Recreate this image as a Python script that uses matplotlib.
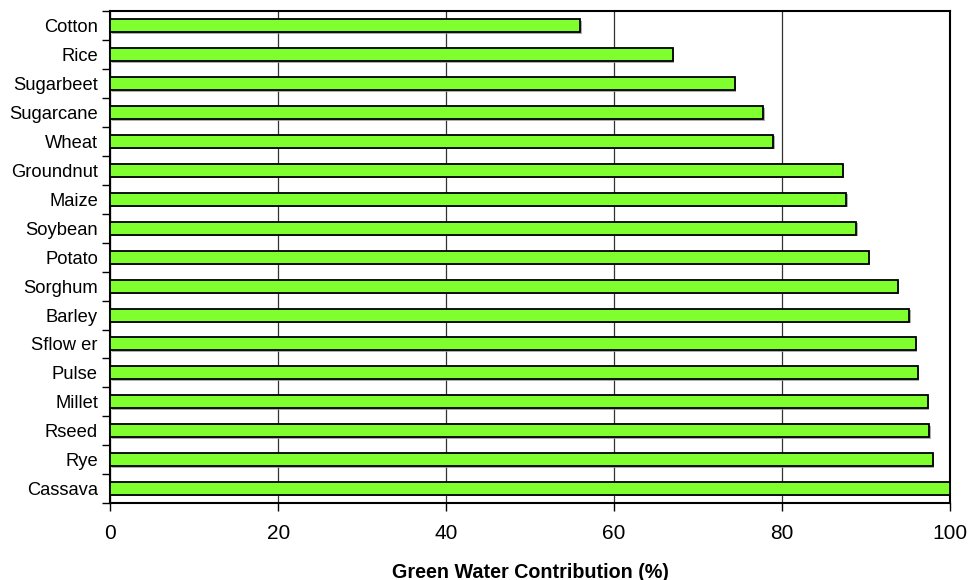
import matplotlib
matplotlib.use('Agg')

import numpy as np
import matplotlib.pyplot as plt
import matplotlib.patheffects as pe

plt.rcParams['font.family'] = ['Liberation Sans', 'DejaVu Sans']

# ---- data ----
crops = ["Cotton", "Rice", "Sugarbeet", "Sugarcane", "Wheat", "Groundnut",
         "Maize", "Soybean", "Potato", "Sorghum", "Barley", "Sflow er",
         "Pulse", "Millet", "Rseed", "Rye", "Cassava"]
green_pct = [56.0, 67.0, 74.4, 77.8, 79.0, 87.3, 87.7, 88.9, 90.4, 93.8,
             95.2, 96.0, 96.2, 97.4, 97.6, 98.0, 100.0]
x_ticks = [0, 20, 40, 60, 80, 100]

fig = plt.figure(figsize=(9.7, 5.8), dpi=100)
ax = fig.add_axes([0.1139, 0.1328, 0.8650, 0.8474])

y = np.arange(len(crops))
ax.barh(y, green_pct, height=0.45, color='#80ff2e', edgecolor='black',
        linewidth=1.3, zorder=3,
        path_effects=[pe.SimplePatchShadow(offset=(1, -1), shadow_rgbFace='#999999', alpha=0.8),
                      pe.Normal()])

ax.set_xlim(0, 100)
ax.set_ylim(len(crops) - 0.5, -0.5)

ax.set_xticks(x_ticks)
ax.set_xticklabels([str(t) for t in x_ticks], fontsize=15)
ax.tick_params(axis='x', direction='out', length=6, width=1, pad=9)
ax.xaxis.grid(True, color='#333333', linewidth=0.9, zorder=0)

# boundary ticks on y, labels at bar centres
ax.set_yticks(np.arange(len(crops) + 1) - 0.5)
ax.set_yticklabels([])
ax.tick_params(axis='y', which='major', direction='out', length=6, width=1)
ax.set_yticks(y, minor=True)
ax.set_yticklabels(crops, minor=True, fontsize=13.2)
ax.tick_params(axis='y', which='minor', length=0, pad=9)

for s in ax.spines.values():
    s.set_linewidth(1.5)
    s.set_color('black')

# x label placed in figure pixels so it sits where the reference has it
fig.text(0.5464, 1 - 572 / 580, 'Green Water Contribution (%)', fontsize=14.2,
         fontweight='bold', ha='center', va='center')

fig.savefig('out.png', dpi=100)
